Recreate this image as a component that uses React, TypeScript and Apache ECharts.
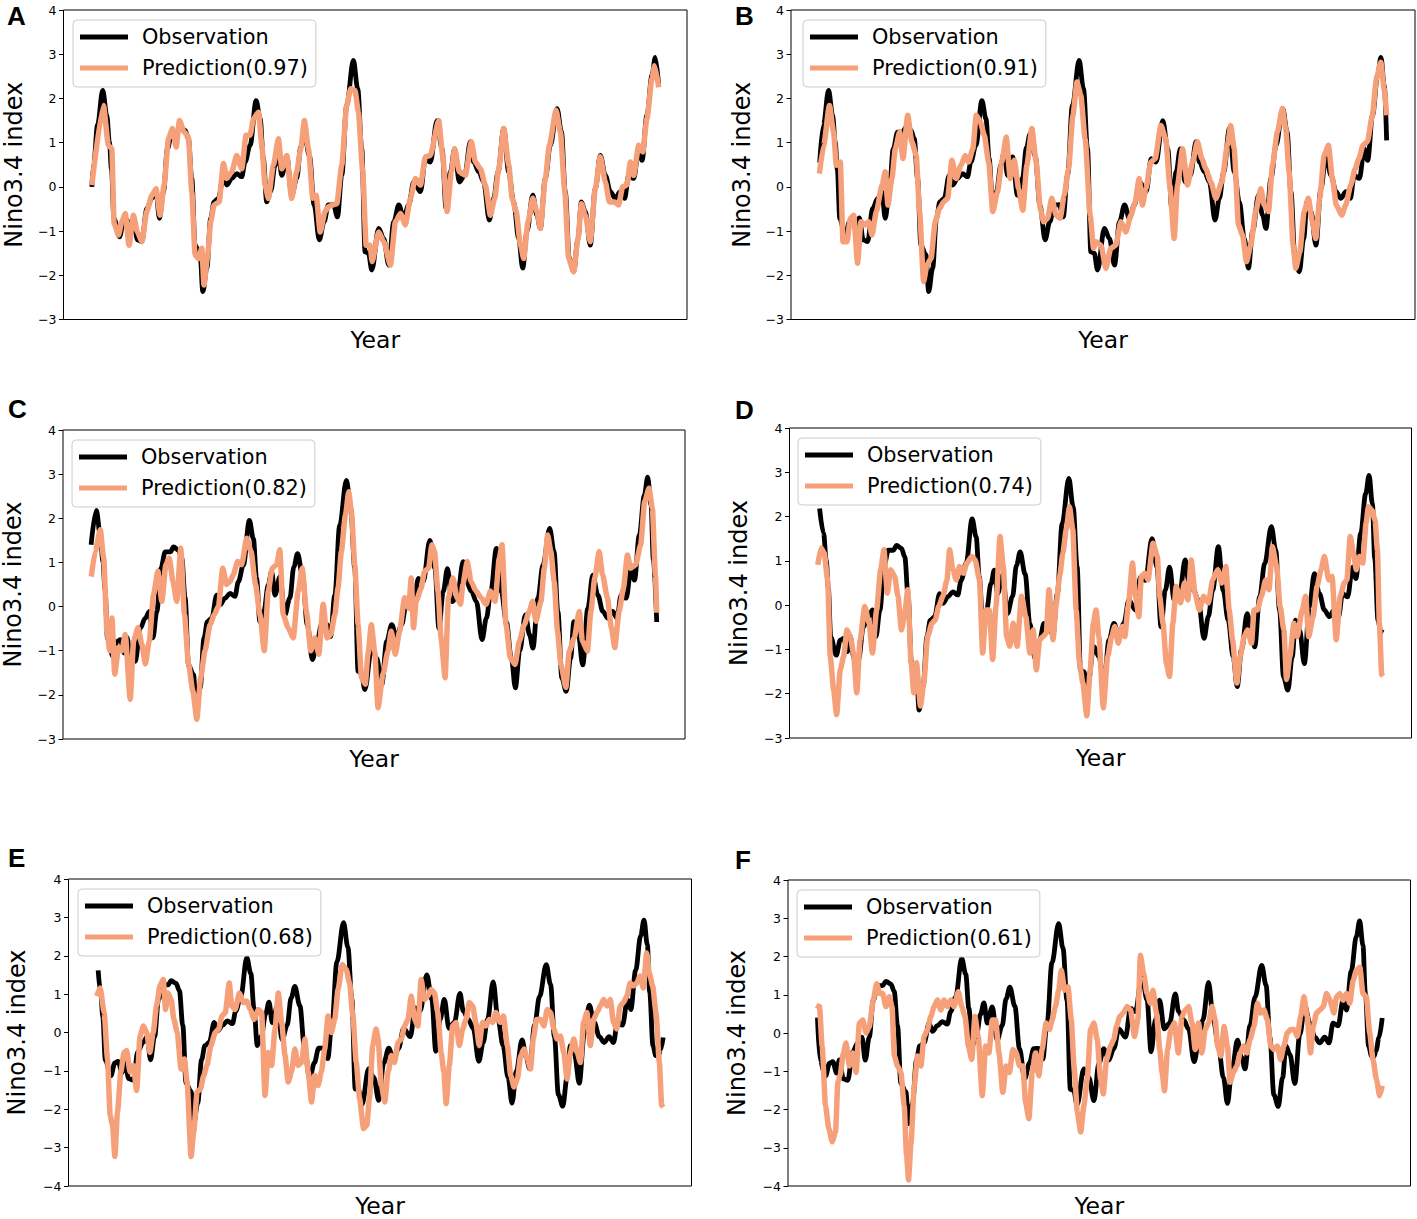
import React, { useEffect, useRef } from "react";
import * as echarts from "echarts";

type Pt = [number, number];

// Observed Nino3.4 index: [year, value]
const observation: Pt[] = [
  [1982.30, 0.00], [1982.42, 0.55], [1982.64, 1.40], [1982.95, 2.18], [1983.19, 1.62], [1983.35, 1.00], [1983.47, 0.40],
  [1983.62, -0.72], [1983.95, -1.13], [1984.19, -0.79], [1984.39, -0.75], [1984.62, -1.05], [1984.78, -0.70], [1985.02, -1.20],
  [1985.28, -1.24], [1985.58, -0.49], [1985.88, -0.26], [1986.13, -0.11], [1986.33, -0.71], [1986.57, -0.11], [1986.81, 0.86],
  [1987.07, 1.24], [1987.37, 1.24], [1987.57, 1.35], [1987.86, 1.28], [1988.06, 1.09], [1988.26, 0.20], [1988.46, -1.32],
  [1988.76, -1.54], [1988.92, -2.37], [1989.16, -1.84], [1989.39, -0.71], [1989.59, -0.34], [1989.85, -0.26], [1990.15, 0.26],
  [1990.35, 0.04], [1990.65, 0.19], [1990.94, 0.30], [1991.24, 0.23], [1991.44, 0.56], [1991.74, 0.94], [1992.10, 1.95],
  [1992.34, 1.54], [1992.53, 0.64], [1992.73, -0.34], [1992.97, -0.10], [1993.23, 0.49], [1993.43, 0.79], [1993.63, 0.26],
  [1993.93, 0.68], [1994.22, -0.19], [1994.52, 0.19], [1994.76, 0.90], [1994.98, 1.20], [1995.28, 0.70], [1995.56, -0.41],
  [1995.87, -1.20], [1996.15, -0.79], [1996.41, -0.41], [1996.71, -0.40], [1996.95, -0.68], [1997.21, 0.26], [1997.50, 1.84],
  [1997.90, 2.86], [1998.16, 2.22], [1998.40, 0.86], [1998.60, -1.47], [1998.80, -1.50], [1999.00, -1.88], [1999.41, -0.94],
  [1999.71, -1.17], [2000.01, -1.77], [2000.31, -0.79], [2000.61, -0.41], [2000.90, -0.71], [2001.20, -0.41], [2001.50, 0.11],
  [2001.90, -0.11], [2002.20, 0.64], [2002.49, 0.56], [2002.89, 1.50], [2003.19, 0.86], [2003.43, -0.49], [2003.69, 0.34],
  [2003.94, 0.86], [2004.22, 0.11], [2004.54, 0.26], [2004.88, 1.02], [2005.08, 0.56], [2005.38, 0.34], [2005.67, 0.11],
  [2006.01, -0.75], [2006.27, -0.26], [2006.53, 0.34], [2006.87, 1.32], [2007.16, 0.34], [2007.46, -0.34], [2007.76, -1.17],
  [2008.00, -1.84], [2008.26, -1.00], [2008.60, -0.19], [2008.85, -0.64], [2009.05, -0.94], [2009.35, 0.19], [2009.65, 0.94],
  [2010.05, 1.77], [2010.31, 1.25], [2010.54, -0.11], [2010.78, -1.62], [2011.04, -1.92], [2011.30, -1.17], [2011.50, -0.34],
  [2011.74, -0.56], [2012.03, -1.32], [2012.33, -0.04], [2012.63, 0.71], [2012.93, 0.26], [2013.23, -0.11], [2013.52, -0.26],
  [2013.82, -0.11], [2014.08, -0.26], [2014.32, 0.26], [2014.62, 0.19], [2014.92, 0.86], [2015.12, 0.60], [2015.41, 1.62],
  [2015.71, 2.52], [2015.91, 2.93], [2016.11, 2.29], [2016.25, 1.05], [2016.45, -0.35], [2016.62, -0.60], [2016.76, -0.62],
  [2016.90, -0.45], [2017.06, -0.13], [2017.26, 0.39],
];

const predictionA: Pt[] = [
  [1982.30, 0.04], [1982.99, 1.84], [1983.29, 0.94], [1983.49, 0.86], [1983.63, -0.83], [1983.89, -1.09], [1984.09, -0.79],
  [1984.29, -0.60], [1984.52, -1.32], [1984.78, -0.64], [1985.02, -1.02], [1985.28, -1.24], [1985.58, -0.56], [1985.88, -0.19],
  [1986.13, -0.04], [1986.37, -0.64], [1986.61, 0.04], [1986.87, 1.09], [1987.11, 1.32], [1987.33, 0.90], [1987.53, 1.50],
  [1987.81, 1.24], [1988.06, 1.13], [1988.26, -0.11], [1988.46, -1.54], [1988.66, -1.62], [1988.86, -1.39], [1988.99, -2.22],
  [1989.19, -1.62], [1989.39, -0.79], [1989.59, -0.41], [1989.89, -0.34], [1990.15, 0.53], [1990.35, 0.19], [1990.65, 0.34],
  [1990.94, 0.71], [1991.24, 0.41], [1991.50, 1.17], [1991.74, 1.17], [1991.94, 1.54], [1992.24, 1.69], [1992.44, 0.94],
  [1992.63, 0.04], [1992.83, -0.26], [1993.13, 0.49], [1993.43, 1.09], [1993.63, 0.41], [1993.93, 0.71], [1994.22, -0.26],
  [1994.52, 0.34], [1994.76, 0.86], [1994.98, 1.50], [1995.22, 0.86], [1995.48, -0.26], [1995.68, -0.19], [1995.92, -1.02],
  [1996.21, -0.56], [1996.41, -0.45], [1996.67, -0.41], [1996.91, -0.38], [1997.21, 0.49], [1997.50, 1.84], [1997.74, 2.22],
  [1998.00, 2.18], [1998.20, 1.69], [1998.46, 0.34], [1998.66, -1.32], [1998.90, -1.32], [1999.02, -1.69], [1999.41, -1.02],
  [1999.71, -1.24], [2000.11, -1.77], [2000.41, -0.79], [2000.71, -0.60], [2001.00, -0.86], [2001.30, -0.26], [2001.60, 0.19],
  [2001.90, 0.04], [2002.20, 0.68], [2002.49, 0.71], [2002.99, 1.50], [2003.23, 0.71], [2003.49, -0.56], [2003.75, 0.34],
  [2003.94, 0.86], [2004.22, 0.34], [2004.58, 0.26], [2004.94, 1.02], [2005.18, 0.56], [2005.48, 0.41], [2005.77, 0.04],
  [2006.07, -0.64], [2006.33, -0.26], [2006.57, 0.41], [2006.87, 1.32], [2007.17, 0.49], [2007.37, -0.26], [2007.61, -0.56],
  [2007.87, -1.32], [2008.06, -1.62], [2008.32, -0.79], [2008.60, -0.26], [2008.85, -0.56], [2009.05, -0.94], [2009.35, 0.19],
  [2009.59, 0.94], [2009.99, 1.73], [2010.25, 1.24], [2010.51, -0.11], [2010.74, -1.62], [2011.04, -1.92], [2011.30, -1.17],
  [2011.50, -0.38], [2011.74, -0.64], [2012.03, -1.24], [2012.33, -0.04], [2012.63, 0.68], [2012.93, 0.11], [2013.17, -0.34],
  [2013.49, -0.34], [2013.72, -0.41], [2013.96, 0.00], [2014.22, 0.04], [2014.42, 0.56], [2014.62, 0.26], [2014.92, 0.94],
  [2015.16, 0.79], [2015.41, 1.54], [2015.71, 2.44], [2015.87, 2.74], [2016.11, 2.25],
];

const predictionB: Pt[] = [
  [1982.40, 0.30], [1982.66, 0.94], [1983.00, 1.84], [1983.25, 1.24], [1983.41, 0.49], [1983.65, 0.56], [1983.81, -1.24],
  [1984.05, -1.24], [1984.25, -0.71], [1984.45, -0.64], [1984.68, -1.73], [1984.88, -0.79], [1985.14, -0.86], [1985.34, -0.79],
  [1985.54, -1.09], [1985.80, -0.56], [1986.14, 0.04], [1986.33, 0.34], [1986.49, -0.41], [1986.73, 0.19], [1986.93, 0.86],
  [1987.19, 1.24], [1987.39, 0.64], [1987.67, 1.62], [1987.92, 1.02], [1988.18, 0.71], [1988.38, -0.56], [1988.62, -2.14],
  [1988.82, -1.77], [1989.06, -1.62], [1989.32, -0.79], [1989.57, -0.49], [1989.81, -0.34], [1990.05, -0.26], [1990.31, 0.60],
  [1990.57, 0.19], [1990.85, 0.49], [1991.10, 0.71], [1991.30, 0.56], [1991.56, 0.86], [1991.76, 1.62], [1992.00, 1.47],
  [1992.24, 1.17], [1992.50, 0.56], [1992.75, -0.56], [1993.03, -0.11], [1993.29, 0.56], [1993.55, 1.13], [1993.79, 0.19],
  [1994.03, 0.60], [1994.29, -0.04], [1994.54, -0.53], [1994.78, 0.49], [1995.08, 1.32], [1995.34, 0.56], [1995.58, -0.49],
  [1995.78, -0.79], [1996.02, -0.71], [1996.27, -0.26], [1996.53, -0.64], [1996.77, -0.71], [1997.01, -0.19], [1997.27, 0.41],
  [1997.53, 1.62], [1997.77, 2.37], [1998.00, 2.07], [1998.26, 1.09], [1998.56, -0.64], [1998.76, -1.39], [1998.90, -1.24],
  [1999.20, -1.32], [1999.50, -1.84], [1999.79, -1.39], [2000.09, -1.32], [2000.39, -0.79], [2000.69, -1.02], [2000.99, -0.64],
  [2001.25, -0.34], [2001.48, 0.19], [2001.68, -0.41], [2001.88, -0.04], [2002.18, 0.56], [2002.44, 0.64], [2002.78, 1.39],
  [2003.07, 1.09], [2003.31, 0.04], [2003.57, -1.17], [2003.77, 0.04], [2004.07, 0.86], [2004.37, 0.04], [2004.67, 0.56],
  [2004.96, 1.02], [2005.22, 0.64], [2005.46, 0.41], [2005.76, 0.11], [2006.06, -0.26], [2006.41, 0.11], [2006.75, 0.94],
  [2006.95, 1.39], [2007.15, 0.86], [2007.41, -0.86], [2007.65, -1.09], [2007.89, -1.69], [2008.14, -1.32], [2008.44, -0.56],
  [2008.74, -0.04], [2008.94, -0.41], [2009.20, -0.56], [2009.44, 0.49], [2009.73, 1.24], [2010.03, 1.77], [2010.23, 1.32],
  [2010.43, 0.34], [2010.67, -1.32], [2010.83, -1.84], [2011.07, -1.47], [2011.33, -0.56], [2011.58, -0.26], [2011.82, -0.79],
  [2012.02, -1.17], [2012.26, -0.26], [2012.52, 0.71], [2012.78, 0.94], [2013.01, 0.19], [2013.25, -0.41], [2013.57, -0.64],
  [2013.81, -0.41], [2014.11, 0.04], [2014.37, 0.41], [2014.60, 0.64], [2014.84, 0.94], [2015.10, 1.02], [2015.40, 1.62],
  [2015.64, 2.44], [2015.90, 2.82], [2016.10, 2.22], [2016.25, 1.62],
];

const predictionC: Pt[] = [
  [1982.65, 0.68], [1982.89, 1.25], [1983.19, 1.74], [1983.39, 1.10], [1983.59, -0.56], [1983.75, -1.00], [1983.89, -0.26],
  [1984.05, -1.53], [1984.28, -0.93], [1984.48, -1.00], [1984.68, -0.63], [1984.98, -2.10], [1985.18, -0.78], [1985.44, -0.48],
  [1985.68, -0.86], [1985.88, -1.30], [1986.12, -0.78], [1986.37, 0.27], [1986.63, 0.80], [1986.87, 0.12], [1987.11, 0.95],
  [1987.31, 1.10], [1987.53, 0.57], [1987.76, 0.12], [1988.00, 1.32], [1988.22, -0.18], [1988.46, -1.30], [1988.72, -1.91],
  [1988.96, -2.55], [1989.19, -1.61], [1989.45, -1.00], [1989.75, -0.41], [1990.01, -0.18], [1990.25, 0.01], [1990.51, 0.87],
  [1990.74, 0.50], [1990.94, 0.57], [1991.14, 0.72], [1991.40, 1.02], [1991.64, 0.95], [1991.94, 1.55], [1992.20, 1.25],
  [1992.47, 0.50], [1992.73, -0.18], [1992.99, -1.00], [1993.23, 0.35], [1993.47, 0.87], [1993.73, 0.95], [1993.92, 1.29],
  [1994.12, -0.18], [1994.42, -0.48], [1994.72, -0.71], [1995.02, 0.35], [1995.26, 0.87], [1995.51, -0.11], [1995.77, -1.00],
  [1996.01, -0.71], [1996.25, -1.08], [1996.51, 0.05], [1996.75, -0.71], [1996.97, -0.63], [1997.21, -0.18], [1997.40, 0.42],
  [1997.60, 1.25], [1997.84, 2.07], [1998.04, 2.60], [1998.20, 2.15], [1998.40, 0.95], [1998.60, -0.41], [1998.80, -1.61],
  [1999.03, -1.76], [1999.19, -1.08], [1999.39, -0.41], [1999.59, -1.01], [1999.79, -2.29], [2000.09, -1.53], [2000.38, -1.01],
  [2000.58, -0.56], [2000.82, -1.08], [2001.08, -0.56], [2001.38, 0.20], [2001.62, -0.03], [2001.78, 0.65], [2001.91, -0.48],
  [2002.07, 0.12], [2002.37, 0.42], [2002.57, 0.80], [2002.81, 0.87], [2003.01, 1.40], [2003.17, 1.25], [2003.37, 0.35],
  [2003.56, -0.71], [2003.80, -1.61], [2004.00, 0.20], [2004.26, 0.65], [2004.52, 0.20], [2004.72, 0.05], [2004.86, 0.50],
  [2005.12, 1.02], [2005.35, 0.57], [2005.65, 0.35], [2005.95, 0.20], [2006.25, 0.05], [2006.51, 0.35], [2006.79, 0.12],
  [2007.04, 1.10], [2007.20, 1.40], [2007.44, -0.41], [2007.70, -1.16], [2007.98, -1.31], [2008.24, -0.78], [2008.53, -0.41],
  [2008.83, -0.11], [2009.03, 0.12], [2009.23, -0.33], [2009.53, 0.12], [2009.73, 0.87], [2009.93, 1.62], [2010.12, 1.25],
  [2010.32, 0.57], [2010.52, -0.56], [2010.72, -1.31], [2011.02, -1.83], [2011.22, -1.01], [2011.52, -0.71], [2011.82, -0.11],
  [2012.01, -0.78], [2012.31, -1.01], [2012.51, -0.11], [2012.75, 0.65], [2013.01, 1.25], [2013.21, 0.72], [2013.50, 0.20],
  [2013.74, -0.48], [2013.94, -0.93], [2014.20, -0.11], [2014.46, 0.42], [2014.70, 1.17], [2014.89, 0.87], [2015.19, 0.95],
  [2015.49, 1.40], [2015.73, 2.38], [2015.99, 2.68], [2016.19, 2.23], [2016.37, 0.72], [2016.45, -0.14],
];

const predictionD: Pt[] = [
  [1982.84, 0.91], [1983.04, 1.29], [1983.23, 1.17], [1983.43, 0.57], [1983.59, -1.16], [1983.79, -1.91], [1983.97, -2.47],
  [1984.19, -1.46], [1984.39, -1.16], [1984.59, -0.56], [1984.79, -0.71], [1984.98, -1.08], [1985.18, -1.98], [1985.38, -0.78],
  [1985.66, -0.03], [1985.92, -0.41], [1986.12, -1.08], [1986.37, -0.11], [1986.61, 0.80], [1986.81, 1.25], [1987.01, 0.27],
  [1987.21, 0.80], [1987.45, 0.65], [1987.65, 0.20], [1987.86, -0.56], [1988.06, -0.18], [1988.24, 0.35], [1988.44, -1.30],
  [1988.60, -1.98], [1988.76, -1.30], [1989.00, -2.28], [1989.20, -1.76], [1989.43, -0.71], [1989.69, -0.41], [1989.89, -0.33],
  [1990.09, -0.03], [1990.35, 0.20], [1990.59, 0.57], [1990.75, 1.25], [1990.95, 0.80], [1991.14, 0.57], [1991.34, 0.87],
  [1991.58, 0.72], [1991.78, 0.95], [1992.08, 1.10], [1992.28, 1.02], [1992.54, 0.57], [1992.73, -1.08], [1992.93, -0.11],
  [1993.13, -0.11], [1993.33, -1.23], [1993.53, -0.03], [1993.77, 1.55], [1993.97, 0.87], [1994.17, -0.71], [1994.36, -0.93],
  [1994.56, -0.41], [1994.80, -0.93], [1995.06, 0.20], [1995.32, -0.26], [1995.56, -1.08], [1995.76, -0.56], [1995.95, -1.46],
  [1996.15, -0.78], [1996.35, -0.71], [1996.55, -0.63], [1996.71, 0.35], [1996.95, -0.78], [1997.15, 0.05], [1997.35, 0.65],
  [1997.54, 1.17], [1997.74, 1.70], [1997.94, 2.22], [1998.14, 1.70], [1998.34, -0.11], [1998.54, -1.30], [1998.74, -1.76],
  [1998.98, -2.50], [1999.17, -1.53], [1999.37, -0.41], [1999.53, -0.11], [1999.70, -0.70], [1999.97, -2.32], [2000.23, -1.16],
  [2000.47, -0.71], [2000.66, -0.48], [2000.86, -0.86], [2001.10, -0.48], [2001.26, -0.71], [2001.46, -0.03], [2001.72, 0.95],
  [2001.90, 0.20], [2002.10, -0.26], [2002.25, 0.65], [2002.45, 0.72], [2002.65, 0.57], [2002.95, 1.40], [2003.21, 1.10],
  [2003.35, 0.20], [2003.55, -0.41], [2003.75, -1.31], [2003.94, -1.61], [2004.14, -0.41], [2004.34, 0.42], [2004.60, 0.05],
  [2004.84, 0.50], [2005.04, 0.12], [2005.24, 1.02], [2005.47, 0.27], [2005.73, -0.11], [2005.99, 0.20], [2006.27, 0.05],
  [2006.53, 0.57], [2006.83, 0.80], [2007.07, 0.50], [2007.32, 0.87], [2007.52, -0.11], [2007.72, -0.78], [2007.98, -1.76],
  [2008.18, -1.16], [2008.42, -0.71], [2008.62, -0.56], [2008.86, -0.86], [2009.01, -0.11], [2009.21, -0.11], [2009.45, 0.20],
  [2009.71, 0.57], [2009.91, 0.35], [2010.11, 1.32], [2010.37, 0.87], [2010.57, -0.02], [2010.80, -0.56], [2010.96, -1.68],
  [2011.16, -1.16], [2011.40, -0.41], [2011.60, -0.71], [2011.90, -0.11], [2012.10, 0.20], [2012.29, -0.71], [2012.55, -0.26],
  [2012.79, 0.42], [2013.03, 0.80], [2013.23, 1.10], [2013.49, 0.57], [2013.69, 0.65], [2013.94, -0.78], [2014.18, 0.20],
  [2014.42, 0.50], [2014.58, 0.57], [2014.78, 1.55], [2014.98, 1.17], [2015.14, 0.80], [2015.34, 1.10], [2015.53, 0.95],
  [2015.73, 1.85], [2015.87, 2.22], [2016.07, 2.15], [2016.27, 1.92], [2016.41, 1.25], [2016.53, -0.41], [2016.67, -1.57],
  [2016.76, -1.60],
];

const predictionE: Pt[] = [
  [1983.11, 0.95], [1983.31, 1.16], [1983.55, 0.52], [1983.75, -0.69], [1983.91, -2.16], [1984.05, -2.41], [1984.19, -3.23],
  [1984.35, -2.07], [1984.55, -1.03], [1984.74, -0.52], [1984.90, -0.47], [1985.10, -1.03], [1985.30, -0.86], [1985.50, -1.51],
  [1985.70, -0.09], [1985.90, 0.17], [1986.10, 0.00], [1986.29, -0.52], [1986.49, 0.00], [1986.69, 0.69], [1986.89, 1.21],
  [1987.09, 1.38], [1987.23, 0.60], [1987.37, 1.03], [1987.57, 0.86], [1987.73, 0.34], [1987.93, 0.00], [1988.16, -0.95],
  [1988.36, -0.69], [1988.52, -1.29], [1988.76, -3.23], [1988.92, -2.59], [1989.12, -1.55], [1989.32, -1.47], [1989.52, -1.12],
  [1989.71, -0.86], [1989.95, -0.34], [1990.21, 0.00], [1990.41, 0.09], [1990.61, 0.43], [1990.81, 0.52], [1991.05, 1.29],
  [1991.20, 0.69], [1991.40, 0.60], [1991.66, 1.03], [1991.90, 0.78], [1992.10, 0.82], [1992.30, 0.60], [1992.54, 0.34],
  [1992.80, 0.60], [1992.99, 0.52], [1993.19, -1.64], [1993.39, -0.52], [1993.59, -0.86], [1993.79, 0.09], [1993.99, 1.03],
  [1994.19, 0.26], [1994.39, -0.60], [1994.58, -1.29], [1994.78, -1.03], [1994.98, -0.43], [1995.18, -0.86], [1995.38, -0.78],
  [1995.58, -0.17], [1995.78, -1.03], [1995.98, -1.81], [1996.17, -1.12], [1996.37, -1.38], [1996.57, -1.03], [1996.77, -0.43],
  [1996.97, 0.43], [1997.17, 0.00], [1997.37, 0.34], [1997.57, 1.12], [1997.82, 1.77], [1998.06, 1.64], [1998.26, 1.29],
  [1998.46, 0.43], [1998.66, -0.78], [1998.86, -1.72], [1999.10, -2.50], [1999.30, -2.41], [1999.45, -1.72], [1999.65, -0.34],
  [1999.85, 0.09], [1999.97, -0.17], [2000.17, -1.38], [2000.37, -1.81], [2000.57, -1.03], [2000.77, -0.60], [2000.96, -0.78],
  [2001.16, -0.26], [2001.36, -0.17], [2001.56, 0.17], [2001.76, 0.34], [2001.96, 0.95], [2002.16, 0.34], [2002.36, 0.17],
  [2002.55, 1.38], [2002.75, 0.86], [2002.95, 0.95], [2003.15, 1.12], [2003.35, 1.03], [2003.55, 0.52], [2003.75, -0.52],
  [2003.91, -1.03], [2004.05, -1.85], [2004.24, -0.86], [2004.44, 0.17], [2004.64, 0.26], [2004.84, -0.34], [2005.04, 0.09],
  [2005.24, 0.34], [2005.44, 0.78], [2005.64, 0.69], [2005.83, 0.26], [2006.03, -0.34], [2006.23, 0.26], [2006.43, 0.17],
  [2006.63, 0.34], [2006.83, 0.26], [2007.03, 0.52], [2007.29, 0.26], [2007.48, 0.43], [2007.72, -0.34], [2007.92, -1.12],
  [2008.12, -1.42], [2008.32, -1.21], [2008.52, -0.60], [2008.72, -0.43], [2008.92, -0.69], [2009.11, -0.95], [2009.27, -0.17],
  [2009.47, 0.34], [2009.71, 0.34], [2009.91, 0.17], [2010.11, 0.60], [2010.31, 0.52], [2010.51, 0.09], [2010.70, -0.17],
  [2010.90, -0.09], [2011.10, -0.52], [2011.30, -1.21], [2011.50, -0.52], [2011.70, -0.17], [2011.90, -0.52], [2012.10, -0.78],
  [2012.29, 0.26], [2012.49, 0.52], [2012.69, -0.34], [2012.89, 0.34], [2013.09, 0.52], [2013.29, 0.69], [2013.49, 0.86],
  [2013.69, 0.69], [2013.89, 0.86], [2014.08, 0.26], [2014.28, 0.09], [2014.48, 0.69], [2014.68, 0.78], [2014.88, 0.95],
  [2015.08, 1.29], [2015.28, 1.21], [2015.48, 1.29], [2015.67, 1.47], [2015.87, 1.16], [2016.07, 2.07], [2016.23, 1.55],
  [2016.43, 1.21], [2016.63, 0.52], [2016.83, -0.78], [2016.97, -1.90], [2017.06, -1.95],
];

const predictionF: Pt[] = [
  [1983.40, 0.73], [1983.59, 0.69], [1983.75, -0.34], [1983.95, -1.90], [1984.15, -2.50], [1984.35, -2.84], [1984.55, -2.59],
  [1984.69, -1.29], [1984.82, -1.12], [1985.02, -0.52], [1985.18, -0.26], [1985.38, -0.86], [1985.58, -0.52], [1985.78, -1.03],
  [1985.98, 0.26], [1986.18, 0.34], [1986.38, 0.00], [1986.57, 0.17], [1986.81, 0.86], [1987.01, 1.29], [1987.21, 1.03],
  [1987.37, 1.03], [1987.57, 0.69], [1987.77, 0.95], [1987.93, 0.69], [1988.07, -0.60], [1988.26, -0.86], [1988.46, -1.03],
  [1988.66, -1.90], [1988.80, -3.19], [1988.92, -3.84], [1989.06, -2.93], [1989.26, -1.38], [1989.46, -0.60], [1989.66, -0.86],
  [1989.85, -0.09], [1990.05, 0.09], [1990.25, 0.43], [1990.45, 0.69], [1990.65, 0.86], [1990.85, 0.60], [1991.05, 0.86],
  [1991.25, 0.69], [1991.44, 0.86], [1991.64, 0.69], [1991.90, 1.08], [1992.10, 0.69], [1992.30, 0.43], [1992.50, -0.34],
  [1992.70, -0.69], [1992.89, 0.43], [1993.09, -0.09], [1993.33, -1.64], [1993.53, -0.34], [1993.73, -0.52], [1993.93, 0.34],
  [1994.13, 0.34], [1994.33, -0.52], [1994.56, -1.55], [1994.76, -0.86], [1994.96, -1.03], [1995.16, -0.43], [1995.36, -0.52],
  [1995.56, -0.86], [1995.76, -0.86], [1995.92, -1.81], [1996.12, -2.24], [1996.32, -1.03], [1996.51, -0.52], [1996.71, -1.12],
  [1996.91, -0.43], [1997.15, 0.26], [1997.35, 0.09], [1997.51, 0.34], [1997.71, 0.69], [1997.90, 1.12], [1998.06, 1.64],
  [1998.26, 1.12], [1998.46, 1.21], [1998.66, 0.34], [1998.82, -0.86], [1999.02, -2.07], [1999.22, -2.59], [1999.41, -1.90],
  [1999.61, -1.21], [1999.81, 0.09], [2000.01, 0.26], [2000.21, -0.17], [2000.41, -1.21], [2000.57, -1.59], [2000.77, -0.69],
  [2001.01, -0.34], [2001.20, -0.17], [2001.36, 0.17], [2001.56, 0.43], [2001.76, 0.52], [2002.00, 0.69], [2002.20, 0.60],
  [2002.44, -0.09], [2002.64, 0.34], [2002.79, 2.03], [2002.99, 1.55], [2003.19, 1.03], [2003.39, 0.78], [2003.55, 1.12],
  [2003.75, 0.52], [2003.95, -0.43], [2004.09, -1.03], [2004.23, -1.51], [2004.42, -0.43], [2004.62, 0.09], [2004.82, 0.26],
  [2005.06, -0.52], [2005.28, 0.43], [2005.48, 0.60], [2005.68, 0.69], [2005.88, 0.26], [2006.07, -0.43], [2006.27, 0.26],
  [2006.47, -0.52], [2006.67, 0.09], [2006.87, 0.26], [2007.07, 0.69], [2007.27, 0.34], [2007.41, -0.34], [2007.61, -0.60],
  [2007.80, 0.17], [2008.00, -0.34], [2008.16, -1.29], [2008.36, -1.03], [2008.56, -0.86], [2008.76, -0.52], [2008.96, -0.34],
  [2009.16, -0.52], [2009.35, -0.17], [2009.59, 0.17], [2009.79, 0.78], [2009.99, 0.52], [2010.19, 0.60], [2010.39, 0.34],
  [2010.59, -0.34], [2010.79, -0.43], [2010.98, -0.34], [2011.18, -0.69], [2011.38, -0.34], [2011.58, 0.00], [2011.78, 0.09],
  [2011.98, 0.09], [2012.18, -0.09], [2012.38, 0.43], [2012.58, 0.95], [2012.77, 0.43], [2012.97, -0.52], [2013.13, 0.17],
  [2013.33, 0.52], [2013.53, 0.60], [2013.73, 0.69], [2013.93, 1.03], [2014.13, 0.86], [2014.37, 0.52], [2014.53, 0.95],
  [2014.72, 1.03], [2014.92, 0.86], [2015.12, 1.03], [2015.32, 0.78], [2015.52, 1.38], [2015.72, 1.64], [2015.92, 1.72],
  [2016.11, 1.03], [2016.31, 0.95], [2016.51, 0.00], [2016.71, -0.69], [2016.91, -1.21], [2017.11, -1.64], [2017.26, -1.38],
];

const predictions: Pt[][] = [predictionA, predictionB, predictionC, predictionD, predictionE, predictionF];
const panelLetters = ["A", "B", "C", "D", "E", "F"];
const correlations = ["0.97", "0.91", "0.82", "0.74", "0.68", "0.61"];
const yMins = [-3, -3, -3, -3, -4, -4];
const yMax = 4;

// layout (pixels)
const grids = [
  { left: 63.5, top: 10, width: 623.5, height: 309.5 },
  { left: 791, top: 10, width: 624, height: 309.5 },
  { left: 63, top: 430, width: 622, height: 309 },
  { left: 789.5, top: 428, width: 622, height: 310 },
  { left: 68.5, top: 879, width: 623, height: 310 },
  { left: 788, top: 880, width: 622.5, height: 309 },
];
const legendPos = [[73, 20], [803, 20], [72, 440], [798, 438], [78, 889], [797, 890]];
const letterPos = [[7, 3], [735, 3], [8, 396], [735, 397], [8, 845], [735, 847]];
const yNameGap = [37.5, 37.5, 38, 38.5, 39.5, 39.5];

const OBS_COLOR = "#000000";
const PRED_COLOR = "#F6A07A";
const FONT = "DejaVu Sans";

export default function App() {
  const ref = useRef<HTMLDivElement>(null);

  useEffect(() => {
    if (!ref.current) return;
    const chart = echarts.init(ref.current, undefined, { renderer: "svg" });

    const xAxis: any[] = [];
    const yAxis: any[] = [];
    const series: any[] = [];
    const legend: any[] = [];
    const graphic: any[] = [];

    predictions.forEach((pred, i) => {
      const start = pred[0][0];
      const end = pred[pred.length - 1][0];
      const span = end - start;
      const obs = observation.filter((p) => p[0] >= start - 0.02 && p[0] <= end + 0.02);
      const predName = `Prediction(${correlations[i]})`;

      xAxis.push({
        type: "value",
        gridIndex: i,
        min: start - 0.05 * span,
        max: end + 0.05 * span,
        axisLine: { show: false },
        axisTick: { show: false },
        axisLabel: { show: false },
        splitLine: { show: false },
        name: "Year",
        nameLocation: "middle",
        nameGap: 8,
        nameTextStyle: { fontSize: 23.5, color: "#000", fontFamily: FONT, verticalAlign: "top" },
      });
      yAxis.push({
        type: "value",
        gridIndex: i,
        min: yMins[i],
        max: yMax,
        interval: 1,
        axisLine: { show: false },
        axisTick: { show: true, length: 4.5, lineStyle: { color: "#000", width: 1 } },
        axisLabel: {
          fontSize: 12.5,
          color: "#000",
          fontFamily: FONT,
          margin: 7,
          formatter: (v: number) => String(v).replace("-", "\u2212"),
        },
        splitLine: { show: false },
        name: "Nino3.4 index",
        nameLocation: "middle",
        nameRotate: 90,
        nameGap: yNameGap[i],
        nameTextStyle: { fontSize: 24, color: "#000", fontFamily: FONT },
      });
      series.push({
        type: "line",
        name: "Observation",
        xAxisIndex: i,
        yAxisIndex: i,
        data: obs,
        symbol: "none",
        showSymbol: false,
        smooth: 0.35,
        smoothMonotone: "x",
        color: OBS_COLOR,
        lineStyle: { color: OBS_COLOR, width: 4.8 },
        z: 2,
      });
      series.push({
        type: "line",
        name: predName,
        xAxisIndex: i,
        yAxisIndex: i,
        data: pred,
        symbol: "none",
        showSymbol: false,
        smooth: 0.2,
        smoothMonotone: "x",
        color: PRED_COLOR,
        lineStyle: { color: PRED_COLOR, width: 5.5 },
        z: 3,
      });
      legend.push({
        orient: "vertical",
        left: legendPos[i][0],
        top: legendPos[i][1],
        data: ["Observation", predName],
        icon: "rect",
        itemWidth: 48,
        itemHeight: 5,
        itemGap: 9,
        padding: [6, 8, 8, 7],
        backgroundColor: "rgba(255,255,255,0.8)",
        borderColor: "#cccccc",
        borderWidth: 1,
        borderRadius: 4,
        selectedMode: false,
        textStyle: { fontSize: 20.8, color: "#000", fontFamily: FONT, lineHeight: 22, padding: [0, 0, 0, 9] },
      });
      graphic.push({
        type: "text",
        left: letterPos[i][0],
        top: letterPos[i][1],
        style: {
          text: panelLetters[i],
          fontSize: 26,
          fontWeight: "bold",
          fontFamily: "Liberation Sans",
          fill: "#000",
        },
      });
    });

    chart.setOption({
      animation: false,
      backgroundColor: "#ffffff",
      textStyle: { fontFamily: FONT },
      grid: grids.map((g) => ({ ...g, show: true, borderColor: "#000", borderWidth: 1, containLabel: false })),
      xAxis,
      yAxis,
      series,
      legend,
      graphic,
    });

    return () => chart.dispose();
  }, []);

  return (
    <div
      ref={ref}
      style={{ position: "absolute", left: 0, top: 0, width: 1417, height: 1219, background: "#fff" }}
    />
  );
}
